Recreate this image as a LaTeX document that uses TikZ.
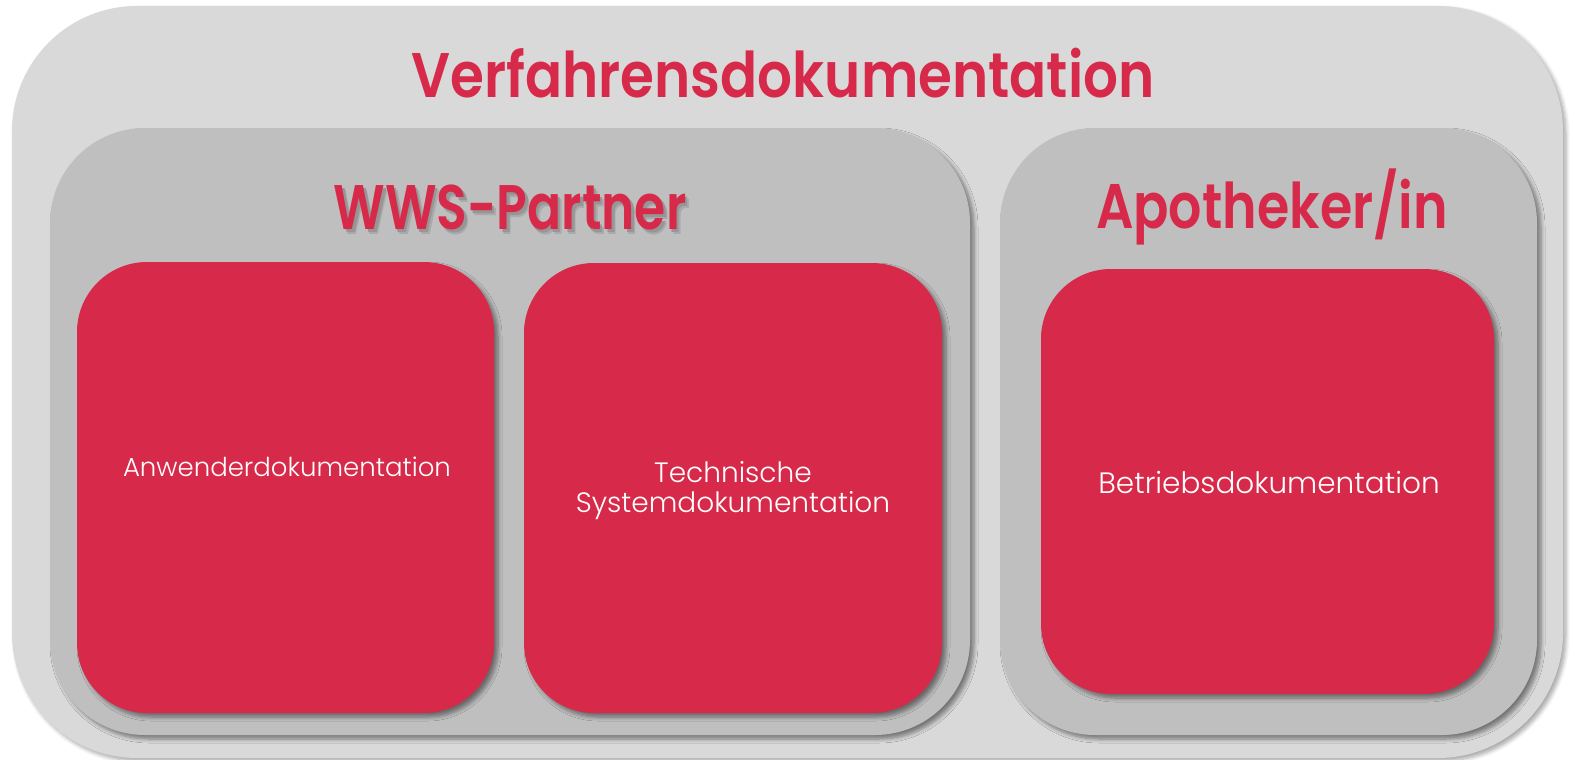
\documentclass[tikz,border=0pt]{standalone}
\usepackage{fontspec}
\setmainfont{Poppins}
\newfontfamily\lightfont{Poppins Light}
\newfontfamily\medfont{Poppins SemiBold}
\usetikzlibrary{shadows.blur}
\definecolor{crim}{RGB}{215,42,74}
\definecolor{outergray}{RGB}{217,217,217}
\definecolor{innergray}{RGB}{191,191,191}
\definecolor{txtshadowA}{RGB}{170,170,170}
\definecolor{txtshadowB}{RGB}{150,150,150}
\tikzset{
  outerbox/.style={fill=outergray, draw=none, rounded corners=125pt, inner sep=0pt,
    blur shadow={shadow xshift=3pt, shadow yshift=-3pt, shadow blur steps=6, shadow blur radius=4pt, shadow opacity=35}},
  groupbox/.style={fill=innergray, draw=none, rounded corners=95pt, inner sep=0pt,
    blur shadow={shadow xshift=4pt, shadow yshift=-4pt, shadow blur steps=6, shadow blur radius=4pt, shadow opacity=45}},
  itembox/.style={fill=crim, draw=none, rounded corners=70pt, inner sep=0pt,
    blur shadow={shadow xshift=4pt, shadow yshift=-4pt, shadow blur steps=6, shadow blur radius=4pt, shadow opacity=45}},
  bigtitle/.style={text=crim, font=\medfont\fontsize{63}{70}\selectfont, anchor=base, inner sep=0pt},
  itemtext/.style={text=white, font=\lightfont, align=center, inner sep=0pt},
}
\newcommand{\wwsshadow}[1]{\rlap{\hspace{5pt}\raisebox{-5pt}{\textcolor{txtshadowA}{#1}}}\rlap{\hspace{3pt}\raisebox{-3pt}{\textcolor{txtshadowB}{#1}}}#1}
\begin{document}
\begin{tikzpicture}[x=1pt,y=-1pt]
\useasboundingbox (0,0) rectangle (1575,760);
\node[outerbox, minimum width=1551pt, minimum height=752pt] (outer) at (787.5,382) {};
\node[groupbox, minimum width=920pt, minimum height=607pt] (wws) at (510,431.5) {};
\node[groupbox, minimum width=537pt, minimum height=607pt] (apo) at (1268.5,431.5) {};
\node[itembox, minimum width=417pt, minimum height=451pt] (anw) at (285.5,487.5) {};
\node[itembox, minimum width=418pt, minimum height=450pt] (tec) at (733,488) {};
\node[itembox, minimum width=453pt, minimum height=425pt] (bet) at (1267.5,481.5) {};
\node[bigtitle] (t0) at (783,98) {\scalebox{0.87}[1]{Verfahrensdokumentation}};
\node[bigtitle] (t1) at (510,229) {\scalebox{0.80}[1]{\wwsshadow{WWS-Partner}}};
\node[bigtitle] (t2) at (1272,228) {\scalebox{0.83}[1]{Apotheker/in}};
\node[itemtext, font=\lightfont\fontsize{26}{30}\selectfont] (l1) at (287,467) {Anwenderdokumentation};
\node[itemtext, font=\lightfont\fontsize{28}{30}\selectfont] (l2) at (733,491) {Technische\\Systemdokumentation};
\node[itemtext, font=\lightfont\fontsize{29.5}{30}\selectfont] (l3) at (1269,483) {Betriebsdokumentation};
\end{tikzpicture}
\end{document}
